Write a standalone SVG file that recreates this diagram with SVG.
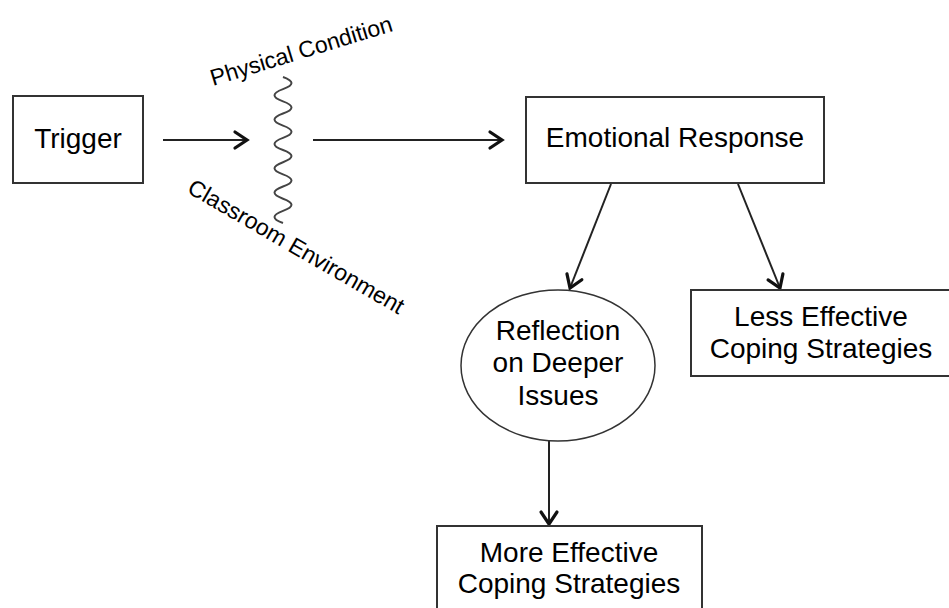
<svg xmlns="http://www.w3.org/2000/svg" width="949" height="608" viewBox="0 0 949 608">
<defs>
<style>
.box{fill:#fff;stroke:#333;stroke-width:2}
.lbl{font-family:"Liberation Sans",Arial,sans-serif;font-size:28px;fill:#000;text-anchor:middle}
.side{font-family:"Liberation Sans",Arial,sans-serif;font-size:23px;fill:#000}
.conn{fill:none;stroke:#222;stroke-width:2;marker-end:url(#arr)}
</style>
<marker id="arr" markerUnits="userSpaceOnUse" viewBox="-16 -12 20 24" refX="0" refY="0" markerWidth="20" markerHeight="24" orient="auto">
<path d="M-12,-8 L0,0 L-12,8" fill="none" stroke="#111" stroke-width="3.2" stroke-linecap="round" stroke-linejoin="miter"/>
</marker>
</defs>
<rect width="949" height="608" fill="#fff"/>
<g id="connectors">
<line class="conn" x1="163" y1="140" x2="247" y2="140"/>
<line class="conn" x1="313" y1="140" x2="502" y2="140"/>
<line class="conn" x1="611" y1="184" x2="570" y2="288"/>
<line class="conn" x1="738" y1="184" x2="780" y2="288"/>
<line class="conn" x1="549" y1="441" x2="549" y2="524"/>
<path id="wave" d="M283,77 q17,6.08 0,12.17 t0,12.17 t0,12.17 t0,12.17 t0,12.17 t0,12.17 t0,12.17 t0,12.17 t0,12.17 t0,12.17 t0,12.17 t0,12.17" fill="none" stroke="#444" stroke-width="2"/>
</g>
<g id="trigger">
<rect class="box" x="13" y="96" width="130" height="87"/>
<text class="lbl" x="78" y="148">Trigger</text>
</g>
<g id="physical-condition">
<text class="side" x="213" y="86" transform="rotate(-17 213 86)">Physical Condition</text>
</g>
<g id="classroom-environment">
<text class="side" x="186" y="192" transform="rotate(30 186 192)">Classroom Environment</text>
</g>
<g id="emotional-response">
<rect class="box" x="526" y="97" width="298" height="86"/>
<text class="lbl" x="675" y="147">Emotional Response</text>
</g>
<g id="reflection">
<ellipse cx="558" cy="365.5" rx="97" ry="75.5" fill="#fff" stroke="#333" stroke-width="1.5"/>
<text class="lbl" x="558" y="340">Reflection</text>
<text class="lbl" x="558" y="372">on Deeper</text>
<text class="lbl" x="558" y="405">Issues</text>
</g>
<g id="less-effective">
<rect class="box" x="691" y="290" width="265" height="86"/>
<text class="lbl" x="821" y="326">Less Effective</text>
<text class="lbl" x="821" y="358">Coping Strategies</text>
</g>
<g id="more-effective">
<rect class="box" x="437" y="526" width="265" height="90"/>
<text class="lbl" x="569" y="562">More Effective</text>
<text class="lbl" x="569" y="593">Coping Strategies</text>
</g>
</svg>
